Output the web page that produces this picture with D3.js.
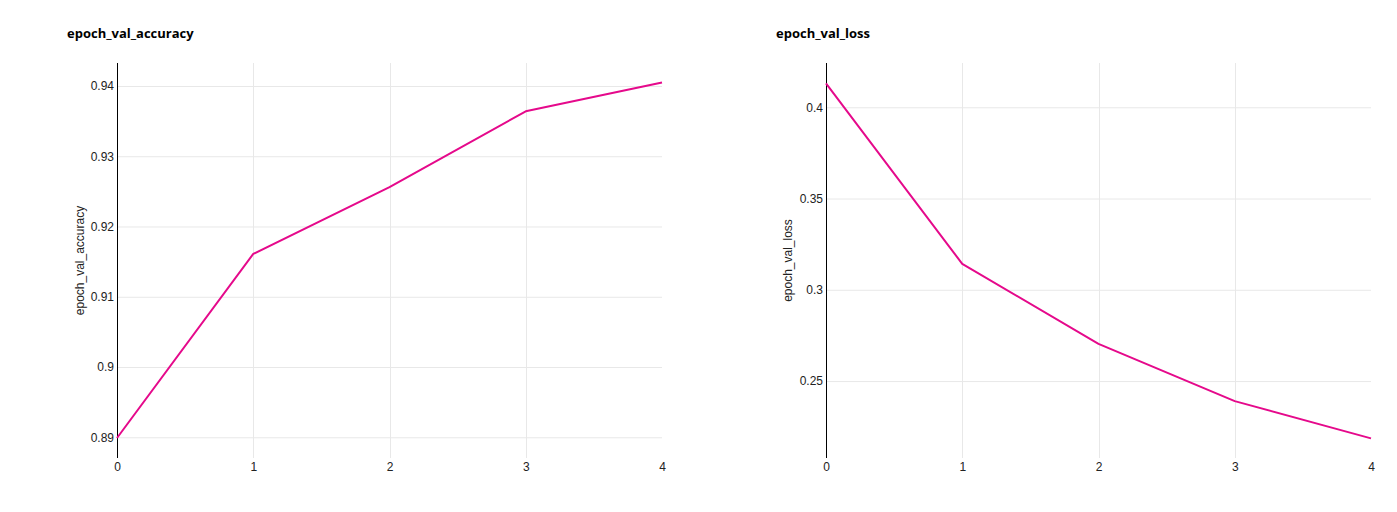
<!DOCTYPE html>
<html>
<head>
<meta charset="utf-8">
<script src="https://cdn.jsdelivr.net/npm/d3@7"></script>
<style>
  body { margin: 0; background: #fff; }
  .title { font-family: "Open Sans", sans-serif; font-weight: bold; font-size: 13px; fill: #000; }
  .tick text { font-family: "Liberation Sans", Arial, sans-serif; font-size: 12px; fill: #222; }
  .axisText { font-family: "Liberation Sans", Arial, sans-serif; font-size: 12px; fill: #222; }
</style>
</head>
<body>
<div id="chart"></div>
<script>
var svgWidth = 1397;
var svgHeight = 512;

// data
var epochs = [0, 1, 2, 3, 4];
var valAccuracy = [0.8899, 0.9161, 0.9256, 0.9364, 0.9405];
var valLoss = [0.4131, 0.3142, 0.2704, 0.2390, 0.2186];
var accTicks = [0.89, 0.90, 0.91, 0.92, 0.93, 0.94];
var lossTicks = [0.25, 0.30, 0.35, 0.40];
var accRange = [0.88705, 0.94327];
var lossRange = [0.20785, 0.42425];

var svg = d3.select("#chart")
    .append("svg")
    .attr("width", svgWidth)
    .attr("height", svgHeight);

function drawPanel(opts) {
    var chartWidth = 545;
    var chartHeight = 395;

    svg.append("text")
        .attr("class", "title")
        .attr("x", opts.titleX)
        .attr("y", 38)
        .text(opts.name);

    var chartGroup = svg.append("g")
        .attr("transform", `translate(${opts.left},63)`);

    var xLinearScale = d3.scaleLinear()
        .domain([0, 4])
        .range([0, chartWidth]);
    var yLinearScale = d3.scaleLinear()
        .domain(opts.yDomain)
        .range([chartHeight, 0]);

    // grid (no vertical line at the first and last epoch)
    chartGroup.append("g").selectAll("line.h")
        .data(opts.ticks)
        .enter().append("line")
        .attr("x1", 0).attr("x2", chartWidth)
        .attr("y1", d => yLinearScale(d) + 0.5)
        .attr("y2", d => yLinearScale(d) + 0.5)
        .attr("stroke", "#e8e8e8");
    chartGroup.append("g").selectAll("line.v")
        .data(epochs.slice(1, -1))
        .enter().append("line")
        .attr("x1", d => Math.round(xLinearScale(d)) + 0.5)
        .attr("x2", d => Math.round(xLinearScale(d)) + 0.5)
        .attr("y1", 0).attr("y2", chartHeight)
        .attr("stroke", "#e8e8e8");

    var bottomAxis = d3.axisBottom(xLinearScale)
        .tickValues(epochs)
        .tickFormat(d3.format("d"))
        .tickSize(0)
        .tickPadding(4);
    var xAxis = chartGroup.append("g")
        .attr("transform", `translate(0, ${chartHeight})`)
        .call(bottomAxis);
    xAxis.select(".domain").remove();

    var leftAxis = d3.axisLeft(yLinearScale)
        .tickValues(opts.ticks)
        .tickFormat(d => String(+d.toFixed(2)))
        .tickSize(0)
        .tickPadding(3);
    var yAxis = chartGroup.append("g")
        .call(leftAxis);
    yAxis.select(".domain").attr("stroke", "#000").attr("d", `M0.5,0V${chartHeight}`);

    chartGroup.append("path")
        .datum(opts.values)
        .attr("fill", "none")
        .attr("stroke", "#e5098b")
        .attr("stroke-width", 2)
        .attr("stroke-linejoin", "round")
        .attr("d", d3.line()
            .x((d, i) => xLinearScale(epochs[i]))
            .y(d => yLinearScale(d)));

    chartGroup.append("text")
        .attr("class", "axisText")
        .attr("transform", `translate(${opts.labelX},${chartHeight / 2}) rotate(-90)`)
        .attr("text-anchor", "middle")
        .text(opts.name);
}

drawPanel({
    name: "epoch_val_accuracy",
    titleX: 67,
    left: 117,
    labelX: -33,
    yDomain: accRange,
    ticks: accTicks,
    values: valAccuracy
});

drawPanel({
    name: "epoch_val_loss",
    titleX: 776,
    left: 826,
    labelX: -34,
    yDomain: lossRange,
    ticks: lossTicks,
    values: valLoss
});
</script>
</body>
</html>
